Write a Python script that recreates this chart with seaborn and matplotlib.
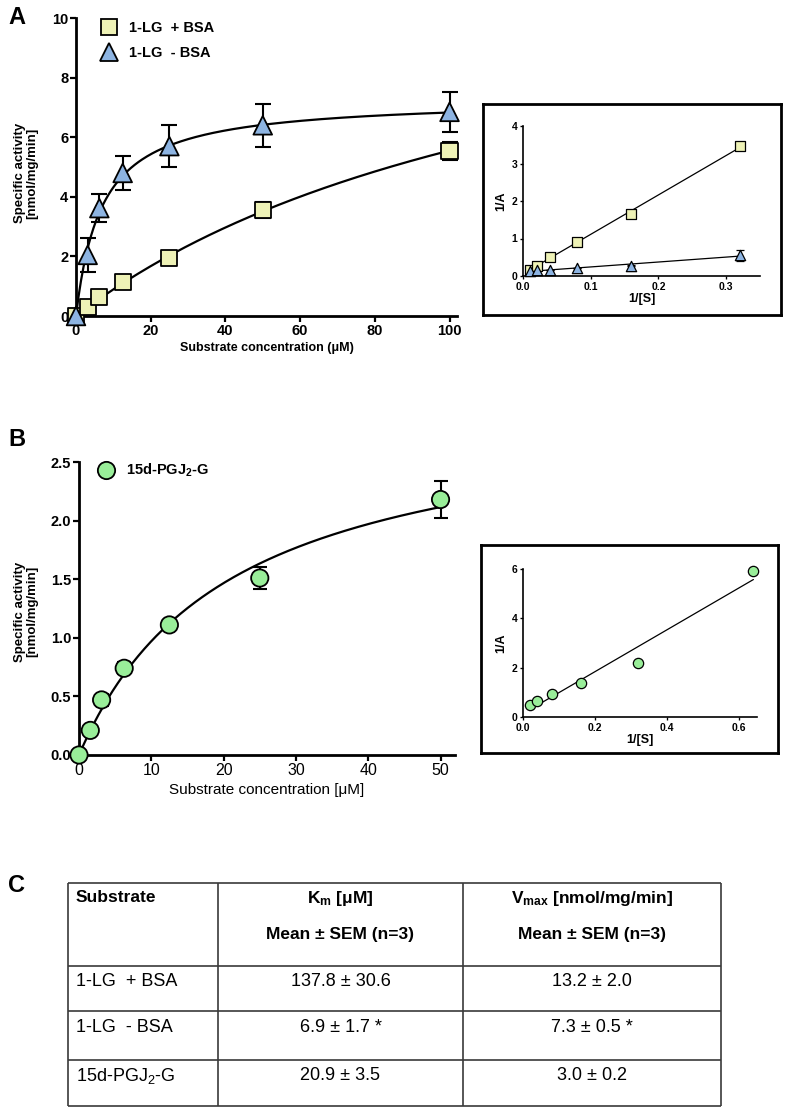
import numpy as np
import pandas as pd
import matplotlib
matplotlib.use('Agg')
import matplotlib.pyplot as plt
import seaborn as sns
from matplotlib import font_manager

# ---- dados ----
# painel A: atividade especifica (nmol/mg/min) vs substrato (uM)
conc_a = [0, 3.125, 6.25, 12.5, 25, 50, 100]
plus_bsa = [0.0, 0.31, 0.65, 1.13, 1.95, 3.55, 5.55]
plus_bsa_err = [0.0, 0.05, 0.05, 0.06, 0.10, 0.27, 0.30]
minus_bsa = [0.0, 2.05, 3.62, 4.80, 5.70, 6.40, 6.85]
minus_bsa_err = [0.0, 0.57, 0.48, 0.58, 0.70, 0.73, 0.66]

# inset A: Lineweaver-Burk
inv_s_a = [0.01, 0.02, 0.04, 0.08, 0.16, 0.32]
inv_plus = [0.17, 0.28, 0.51, 0.90, 1.66, 3.46]
inv_minus = [0.13, 0.15, 0.17, 0.21, 0.28, 0.55]
inv_minus_err = [0.0, 0.0, 0.0, 0.0, 0.02, 0.14]

# painel B
conc_b = [0, 1.5625, 3.125, 6.25, 12.5, 25, 50]
pgj = [0.0, 0.21, 0.47, 0.74, 1.11, 1.51, 2.18]
pgj_err = [0.0, 0.02, 0.05, 0.05, 0.02, 0.09, 0.16]

# inset B
inv_s_b = [0.02, 0.04, 0.08, 0.16, 0.32, 0.64]
inv_pgj = [0.47, 0.66, 0.92, 1.39, 2.20, 5.90]

# tabela C
substrates = ['1-LG  + BSA', '1-LG  - BSA', '15d-PGJ$_2$-G']
km_mean = [137.8, 6.9, 20.9]
km_sem = [30.6, 1.7, 3.5]
vmax_mean = [13.2, 7.3, 3.0]
vmax_sem = [2.0, 0.5, 0.2]
signif = ['', ' *', '']

label_plus = '1-LG  + BSA'
label_minus = '1-LG  - BSA'
label_pgj = '15d-PGJ$_2$-G'

c_yellow = '#EEF2B6'
c_blue = '#8DB4E2'
c_green = '#99EE99'

#configurando o estilo
sns.set_theme(style='ticks')
names = {f.name for f in font_manager.fontManager.ttflist}
narrow = 'Liberation Sans Narrow' if 'Liberation Sans Narrow' in names else 'Liberation Sans'
plt.rcParams['font.family'] = ['Liberation Sans', 'DejaVu Sans']
plt.rcParams['mathtext.default'] = 'regular'
plt.rcParams['text.color'] = 'black'
plt.rcParams['axes.labelcolor'] = 'black'

W, H = 787, 1108
fig = plt.figure(figsize=(W / 100, H / 100), dpi=100)


def px(left, top, right, bottom):
    return [left / W, 1 - bottom / H, (right - left) / W, (bottom - top) / H]


def style_axis(ax, lw, tick_len, tick_size, weight='bold', family=None):
    sns.despine(ax=ax)
    for s in ['left', 'bottom']:
        ax.spines[s].set_linewidth(lw)
        ax.spines[s].set_color('black')
    ax.tick_params(direction='out', length=tick_len, width=lw * 0.8, colors='black',
                   labelsize=tick_size, pad=1.5)
    for t in ax.get_xticklabels() + ax.get_yticklabels():
        t.set_fontweight(weight)
        if family:
            t.set_family(family)
    ax.set_facecolor('none')


# ---------------- painel A ----------------
ax_a = fig.add_axes(px(76, 18, 457, 316))
df_a = pd.DataFrame({
    'conc': conc_a * 2,
    'activity': plus_bsa + minus_bsa,
    'series': [label_plus] * len(conc_a) + [label_minus] * len(conc_a),
})

# curvas de Michaelis-Menten a partir de Km / Vmax da tabela
grid_a = np.linspace(0, 100, 300)
for km, vm in [(km_mean[0], vmax_mean[0]), (km_mean[1], vmax_mean[1])]:
    sns.lineplot(x=grid_a, y=vm * grid_a / (km + grid_a), ax=ax_a, color='black', lw=1.6, zorder=2)

ax_a.errorbar(conc_a, plus_bsa, yerr=plus_bsa_err, fmt='none', ecolor='black',
              elinewidth=1.5, capsize=6, capthick=1.5, zorder=2, clip_on=False)
ax_a.errorbar(conc_a, minus_bsa, yerr=minus_bsa_err, fmt='none', ecolor='black',
              elinewidth=1.5, capsize=6, capthick=1.5, zorder=2, clip_on=False)

sns.scatterplot(data=df_a, x='conc', y='activity', hue='series', style='series', size='series',
                palette={label_plus: c_yellow, label_minus: c_blue},
                markers={label_plus: 's', label_minus: '^'},
                sizes={label_plus: 135, label_minus: 180},
                edgecolor='black', linewidth=1.3, ax=ax_a, zorder=3, clip_on=False)

ax_a.set_xlim(0, 102)
ax_a.set_ylim(0, 10)
ax_a.set_xticks(range(0, 101, 20))
ax_a.set_yticks(range(0, 11, 2))
style_axis(ax_a, 2.0, 4, 10.5)
ax_a.set_xlabel('Substrate concentration (μM)', fontsize=9, fontweight='bold', labelpad=3)
ax_a.set_ylabel('Specific activity\n[nmol/mg/min]', fontsize=9.5, fontweight='bold', linespacing=1.0)
ax_a.yaxis.set_label_coords(-0.10, 0.48)
sns.move_legend(ax_a, 'upper left', bbox_to_anchor=(0.025, 1.02), frameon=False, title=None,
                prop={'weight': 'bold', 'size': 10.5}, handletextpad=0.35, labelspacing=0.75,
                borderaxespad=0.2)

# inset A
box_a = fig.add_axes(px(483, 104, 781, 315))
box_a.set_xticks([])
box_a.set_yticks([])
for s in box_a.spines.values():
    s.set_linewidth(2.0)
    s.set_color('black')

ax_ia = fig.add_axes(px(523, 126, 760, 276))
sns.regplot(x=inv_s_a, y=inv_plus, ax=ax_ia, ci=None, marker='s', color=c_yellow,
            scatter_kws=dict(s=48, edgecolors='black', linewidths=0.9, alpha=1, zorder=3, clip_on=False),
            line_kws=dict(color='black', lw=0.9, zorder=2))
ax_ia.errorbar(inv_s_a, inv_minus, yerr=inv_minus_err, fmt='none', ecolor='black',
               elinewidth=0.9, capsize=3, capthick=0.9, zorder=2)
sns.regplot(x=inv_s_a, y=inv_minus, ax=ax_ia, ci=None, marker='^', color=c_blue,
            scatter_kws=dict(s=55, edgecolors='black', linewidths=0.9, alpha=1, zorder=3, clip_on=False),
            line_kws=dict(color='black', lw=0.9, zorder=2))
ax_ia.set_xlim(0, 0.35)
ax_ia.set_ylim(0, 4)
ax_ia.set_xticks([0.0, 0.1, 0.2, 0.3])
ax_ia.set_xticklabels(['0.0', '0.1', '0.2', '0.3'])
ax_ia.set_yticks([0, 1, 2, 3, 4])
style_axis(ax_ia, 1.2, 2.5, 7.5)
ax_ia.set_xlabel('1/[S]', fontsize=9, fontweight='bold', labelpad=1)
ax_ia.set_ylabel('1/A', fontsize=9, fontweight='bold', labelpad=3)

# ---------------- painel B ----------------
ax_b = fig.add_axes(px(79, 462, 455, 755))
df_b = pd.DataFrame({'conc': conc_b, 'activity': pgj, 'series': [label_pgj] * len(conc_b)})

grid_b = np.linspace(0, 50, 300)
sns.lineplot(x=grid_b, y=vmax_mean[2] * grid_b / (km_mean[2] + grid_b), ax=ax_b,
             color='black', lw=1.6, zorder=2)
ax_b.errorbar(conc_b, pgj, yerr=pgj_err, fmt='none', ecolor='black',
              elinewidth=1.5, capsize=5, capthick=1.5, zorder=2, clip_on=False)
sns.scatterplot(data=df_b, x='conc', y='activity', hue='series', palette={label_pgj: c_green},
                marker='o', s=155, edgecolor='black', linewidth=1.3, ax=ax_b, zorder=3, clip_on=False)

ax_b.set_xlim(0, 52)
ax_b.set_ylim(0, 2.5)
ax_b.set_xticks(range(0, 51, 10))
ax_b.set_yticks([0.0, 0.5, 1.0, 1.5, 2.0, 2.5])
ax_b.set_yticklabels(['0.0', '0.5', '1.0', '1.5', '2.0', '2.5'])
style_axis(ax_b, 2.0, 4, 10.5)
for t in ax_b.get_xticklabels():
    t.set_family(narrow)
    t.set_fontsize(11.5)
    t.set_fontweight('normal')
ax_b.set_xlabel('Substrate concentration [μM]', fontsize=11, family=narrow, labelpad=4)
ax_b.set_ylabel('Specific activity\n[nmol/mg/min]', fontsize=9.5, fontweight='bold', linespacing=1.0)
ax_b.yaxis.set_label_coords(-0.109, 0.49)
sns.move_legend(ax_b, 'upper left', bbox_to_anchor=(0.01, 1.03), frameon=False, title=None,
                prop={'weight': 'bold', 'size': 10.5}, handletextpad=0.35, borderaxespad=0.2)

# inset B
box_b = fig.add_axes(px(481, 545, 778, 753))
box_b.set_xticks([])
box_b.set_yticks([])
for s in box_b.spines.values():
    s.set_linewidth(2.0)
    s.set_color('black')

ax_ib = fig.add_axes(px(523, 569, 757, 717))
sns.regplot(x=inv_s_b, y=inv_pgj, ax=ax_ib, ci=None, marker='o', color=c_green,
            scatter_kws=dict(s=55, edgecolors='black', linewidths=0.9, alpha=1, zorder=3, clip_on=False),
            line_kws=dict(color='black', lw=0.9, zorder=2))
ax_ib.set_xlim(0, 0.65)
ax_ib.set_ylim(0, 6)
ax_ib.set_xticks([0.0, 0.2, 0.4, 0.6])
ax_ib.set_xticklabels(['0.0', '0.2', '0.4', '0.6'])
ax_ib.set_yticks([0, 2, 4, 6])
style_axis(ax_ib, 1.2, 2.5, 7.5)
ax_ib.set_xlabel('1/[S]', fontsize=9, fontweight='bold', labelpad=1)
ax_ib.set_ylabel('1/A', fontsize=9, fontweight='bold', labelpad=3)

# ---------------- tabela C ----------------
ax_t = fig.add_axes(px(68, 883, 721, 1106))
ax_t.set_xlim(0, 653)
ax_t.set_ylim(223, 0)
ax_t.axis('off')
col_edges = [0, 150, 395, 653]
row_edges = [0, 83, 128, 177, 223]
line_kw = dict(color='#3a3a3a', lw=1.2, clip_on=False)
ax_t.hlines(row_edges, 0, 653, **line_kw)
ax_t.vlines(col_edges, 0, 223, **line_kw)

mid_km = (col_edges[1] + col_edges[2]) / 2
mid_vm = (col_edges[2] + col_edges[3]) / 2
head = dict(fontsize=12.5, family=narrow, fontweight='bold', va='center')
ax_t.text(8, 15, 'Substrate', ha='left', **head)
ax_t.text(mid_km, 15, 'K$_m$ [μM]', ha='center', **head)
ax_t.text(mid_km, 52, 'Mean ± SEM (n=3)', ha='center', **head)
ax_t.text(mid_vm, 15, 'V$_{max}$ [nmol/mg/min]', ha='center', **head)
ax_t.text(mid_vm, 52, 'Mean ± SEM (n=3)', ha='center', **head)

body = dict(fontsize=13, family=narrow, va='center')
row_y = [99, 145, 193]
for i in range(len(substrates)):
    ax_t.text(8, row_y[i], substrates[i], ha='left', **body)
    ax_t.text(mid_km, row_y[i], f'{km_mean[i]:.1f} ± {km_sem[i]:.1f}{signif[i]}', ha='center', **body)
    ax_t.text(mid_vm, row_y[i], f'{vmax_mean[i]:.1f} ± {vmax_sem[i]:.1f}{signif[i]}', ha='center', **body)

# letras dos paineis
fig.text(8 / W, 1 - 18 / H, 'A', fontsize=17, fontweight='bold', va='center', ha='left')
fig.text(8 / W, 1 - 440 / H, 'B', fontsize=17, fontweight='bold', va='center', ha='left')
fig.text(8 / W, 1 - 885 / H, 'C', fontsize=17, fontweight='bold', va='center', ha='left')

plt.savefig('out.png', dpi=100)
